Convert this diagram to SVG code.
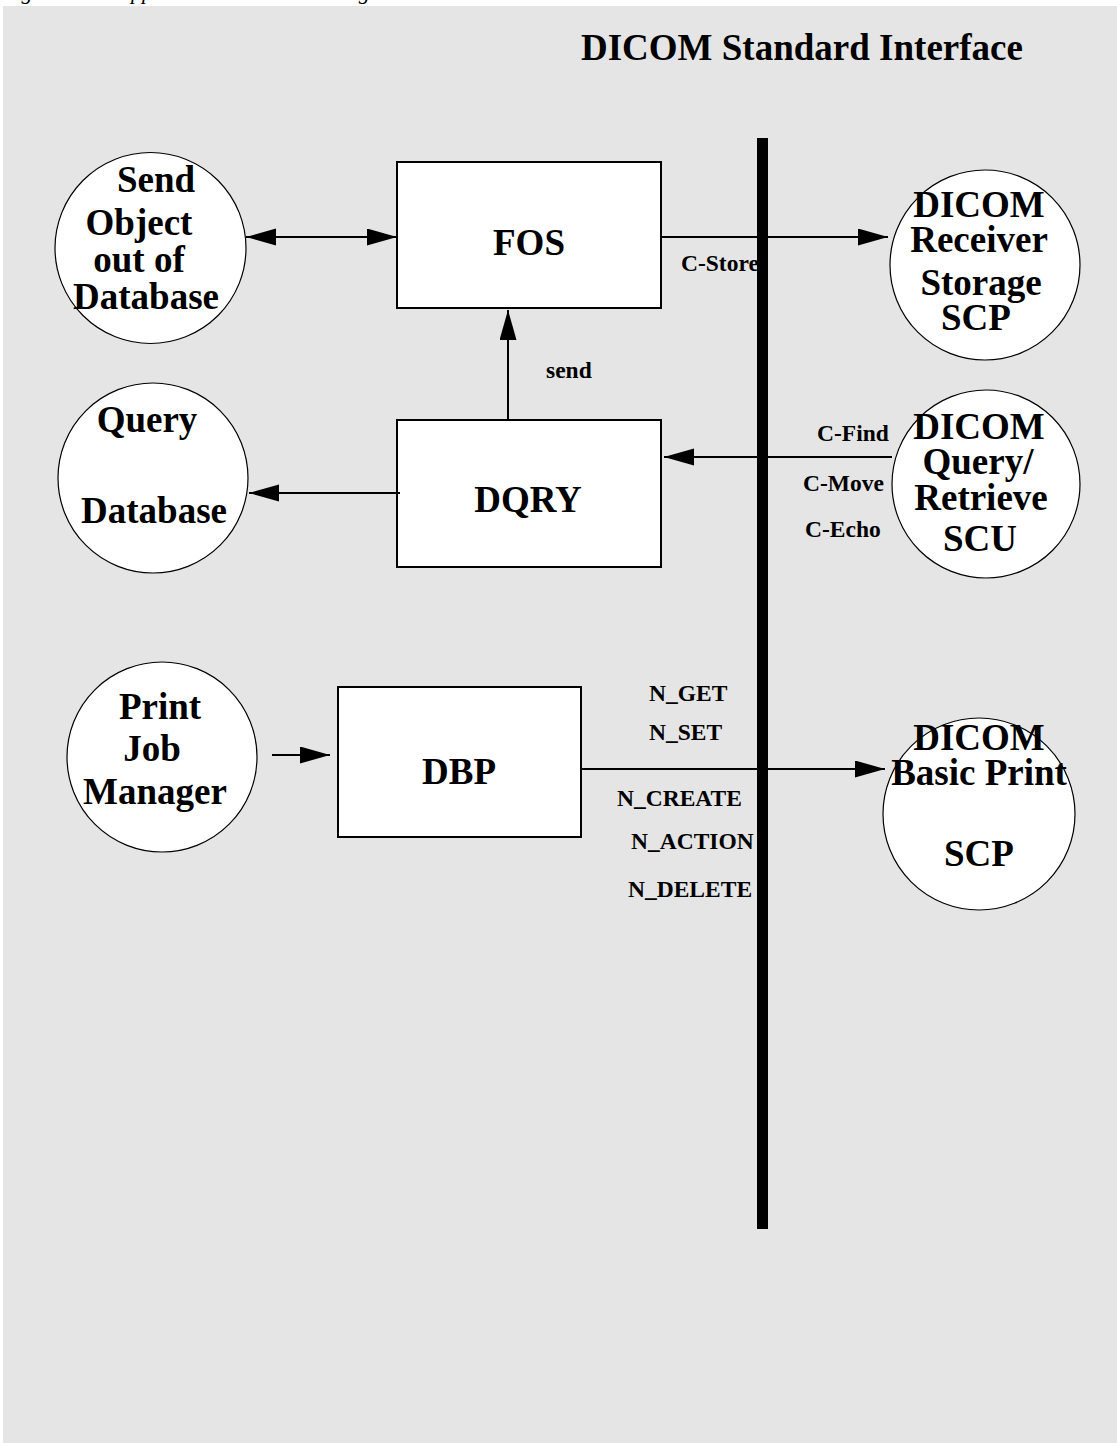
<svg xmlns="http://www.w3.org/2000/svg" width="1117" height="1443" viewBox="0 0 1117 1443">
<style>
.node text{font-family:"Liberation Serif","Times New Roman",serif;font-weight:bold;font-size:37px;fill:#000;text-anchor:middle}
.lbl{font-family:"Liberation Serif","Times New Roman",serif;font-weight:bold;font-size:23.5px;fill:#000}
.circ{fill:#fff;stroke:#000;stroke-width:1.2}
.box{fill:#fff;stroke:#000;stroke-width:2}
.conn line{stroke:#000;stroke-width:2;fill:none}
</style>
<defs>
<marker id="ah" markerUnits="userSpaceOnUse" markerWidth="31" markerHeight="18" refX="30" refY="8.5" orient="auto-start-reverse">
<path d="M0,0 L30,8.5 L0,17 z" fill="#000"/>
</marker>
</defs>
<rect x="0" y="0" width="1117" height="1443" fill="#fff"/>
<rect x="3" y="6" width="1114" height="1437" fill="#e5e5e5"/>
<text x="2" y="-1" font-family="'Liberation Serif','Times New Roman',serif" font-style="italic" font-size="22">Figure 2.1-1 Application Data Flow Diagram</text>
<text x="581" y="60" font-family="'Liberation Serif','Times New Roman',serif" font-weight="bold" font-size="37">DICOM Standard Interface</text>

<g id="send-object" class="node">
<circle class="circ" cx="150.5" cy="248" r="95.5"/>
<text x="156" y="192">Send</text>
<text x="139" y="235">Object</text>
<text x="139" y="272">out of</text>
<text x="146" y="309">Database</text>
</g>
<g id="fos" class="node">
<rect class="box" x="397" y="162" width="264" height="146"/>
<text x="529" y="255">FOS</text>
</g>
<g id="dicom-receiver" class="node">
<circle class="circ" cx="985" cy="265" r="95"/>
<text x="979" y="217">DICOM</text>
<text x="979" y="252">Receiver</text>
<text x="981" y="295">Storage</text>
<text x="976" y="330">SCP</text>
</g>
<g id="query-db" class="node">
<circle class="circ" cx="153" cy="478" r="95"/>
<text x="147" y="432">Query</text>
<text x="154" y="523">Database</text>
</g>
<g id="dqry" class="node">
<rect class="box" x="397" y="420" width="264" height="147"/>
<text x="528" y="512">DQRY</text>
</g>
<g id="dicom-qr" class="node">
<circle class="circ" cx="986" cy="484" r="94"/>
<text x="979" y="439">DICOM</text>
<text x="978" y="474">Query/</text>
<text x="981" y="510">Retrieve</text>
<text x="980" y="551">SCU</text>
</g>
<g id="print-job" class="node">
<circle class="circ" cx="162" cy="757" r="95"/>
<text x="160" y="719">Print</text>
<text x="152" y="761">Job</text>
<text x="155" y="804">Manager</text>
</g>
<g id="dbp" class="node">
<rect class="box" x="338" y="687" width="243" height="150"/>
<text x="459" y="784">DBP</text>
</g>
<g id="dicom-print" class="node">
<circle class="circ" cx="979" cy="814" r="96"/>
<text x="979" y="750">DICOM</text>
<text x="979" y="785">Basic Print</text>
<text x="979" y="866">SCP</text>
</g>

<g id="connectors" class="conn">
<line x1="246" y1="237" x2="397" y2="237" marker-start="url(#ah)" marker-end="url(#ah)"/>
<line x1="661" y1="237" x2="888" y2="237" marker-end="url(#ah)"/>
<line x1="508" y1="420" x2="508" y2="310" marker-end="url(#ah)"/>
<line x1="892" y1="457" x2="664" y2="457" marker-end="url(#ah)"/>
<line x1="400" y1="493" x2="249" y2="493" marker-end="url(#ah)"/>
<line x1="272" y1="755" x2="330" y2="755" marker-end="url(#ah)"/>
<line x1="581" y1="769" x2="885" y2="769" marker-end="url(#ah)"/>
</g>
<rect id="interface-bar" x="757" y="138" width="11" height="1091" fill="#000"/>
<g id="labels">
<text class="lbl" x="681" y="271">C-Store</text>
<text class="lbl" x="546" y="378">send</text>
<text class="lbl" x="817" y="441">C-Find</text>
<text class="lbl" x="803" y="491">C-Move</text>
<text class="lbl" x="805" y="537">C-Echo</text>
<text class="lbl" x="649" y="701">N_GET</text>
<text class="lbl" x="649" y="740">N_SET</text>
<text class="lbl" x="617" y="806">N_CREATE</text>
<text class="lbl" x="631" y="849">N_ACTION</text>
<text class="lbl" x="628" y="897">N_DELETE</text>
</g>
</svg>
